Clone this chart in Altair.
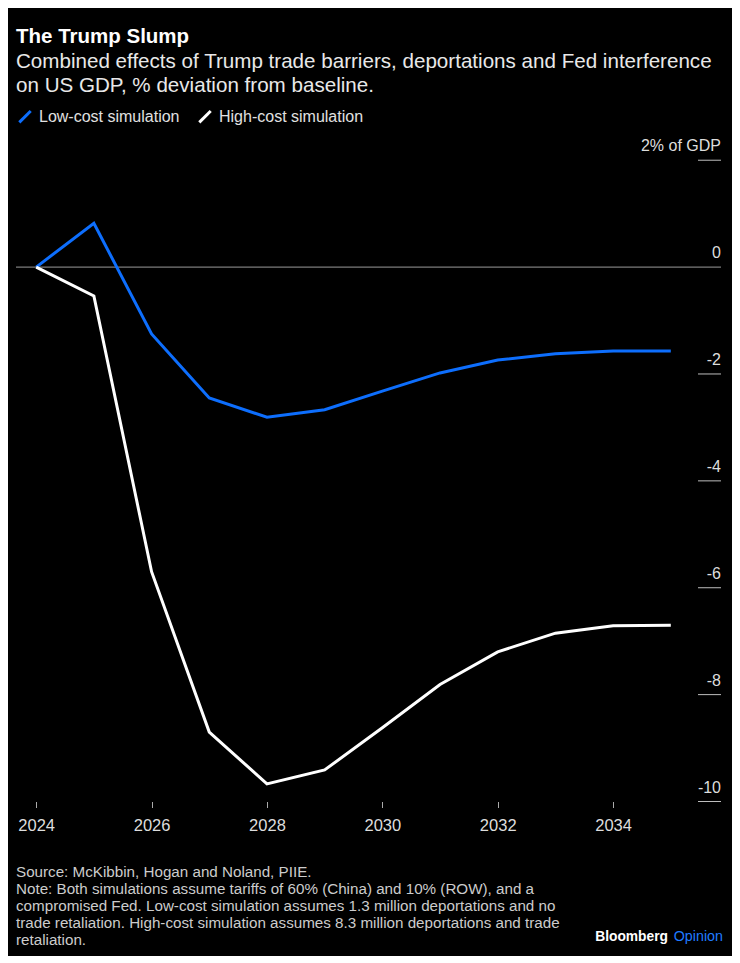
import altair as alt
import pandas as pd

FONT = "Liberation Sans"

years = list(range(2024, 2036))
low_cost = [0.0, 0.82, -1.25, -2.45, -2.81, -2.67, -2.32, -1.98, -1.74, -1.62, -1.57, -1.57]
high_cost = [0.0, -0.54, -5.70, -8.70, -9.67, -9.41, -8.62, -7.81, -7.20, -6.85, -6.71, -6.70]
series_names = ["Low-cost simulation", "High-cost simulation"]
series_colors = ["#0D6EFD", "#FFFFFF"]

y_tick_values = [2, 0, -2, -4, -6, -8, -10]
y_tick_labels = ["2% of GDP", "0", "-2", "-4", "-6", "-8", "-10"]
x_tick_values = [2024, 2026, 2028, 2030, 2032, 2034]

title_text = "The Trump Slump"
subtitle_lines = [
    "Combined effects of Trump trade barriers, deportations and Fed interference",
    "on US GDP, % deviation from baseline.",
]
footer_lines = [
    "Source: McKibbin, Hogan and Noland, PIIE.",
    "Note: Both simulations assume tariffs of 60% (China) and 10% (ROW), and a",
    "compromised Fed. Low-cost simulation assumes 1.3 million deportations and no",
    "trade retaliation. High-cost simulation assumes 8.3 million deportations and trade",
    "retaliation.",
]

W, H = 705, 668

df = pd.DataFrame({
    "year": years * 2,
    "value": low_cost + high_cost,
    "series": [series_names[0]] * len(years) + [series_names[1]] * len(years),
})
ticks_df = pd.DataFrame({"v": y_tick_values, "label": y_tick_labels})
one = pd.DataFrame({"k": [0]})

yscale = alt.Scale(domain=[-10, 2.5], nice=False, zero=False)
xscale = alt.Scale(domain=[2023.65, 2035.87], nice=False, zero=False)

zero_line = alt.Chart(one).mark_rule(color="#9a9a9a", strokeWidth=1).encode(
    y=alt.Y(datum=0, scale=yscale, axis=None),
    x=alt.value(0),
    x2=alt.value(W),
)

tick_rules = alt.Chart(ticks_df).transform_filter("datum.v != 0").mark_rule(
    color="#bdbdbd", strokeWidth=1
).encode(
    y=alt.Y("v:Q", scale=yscale, axis=None),
    x=alt.value(W - 23),
    x2=alt.value(W),
)

tick_labels = alt.Chart(ticks_df).mark_text(
    align="right", baseline="alphabetic", dy=-9, fontSize=16, font=FONT, color="#dddddd"
).encode(
    y=alt.Y("v:Q", scale=yscale, axis=None),
    x=alt.value(W),
    text="label:N",
)

lines = alt.Chart(df).mark_line(strokeWidth=3, strokeJoin="miter").encode(
    x=alt.X(
        "year:Q",
        scale=xscale,
        axis=alt.Axis(
            values=x_tick_values, format="d", title=None, domain=False, grid=False,
            ticks=True, tickSize=6, tickColor="#aaaaaa", tickWidth=1,
            labelColor="#dddddd", labelFontSize=16.5, labelFont=FONT, labelPadding=10,
        ),
    ),
    y=alt.Y("value:Q", scale=yscale, axis=None),
    color=alt.Color(
        "series:N",
        scale=alt.Scale(domain=series_names, range=series_colors),
        sort=series_names,
        legend=alt.Legend(
            orient="none", legendX=1, legendY=-25, direction="horizontal", title=None,
            symbolType="M-1,1L1,-1", symbolStrokeWidth=3, symbolSize=130,
            labelFontSize=16, labelFont=FONT, labelColor="#e0e0e0",
            columnPadding=13, labelOffset=6,
        ),
    ),
)

footer = alt.Chart(one).mark_text(
    align="left", baseline="top", lineHeight=17, fontSize=15.2, font=FONT, color="#cccccc"
).encode(
    x=alt.value(0), y=alt.value(731), text=alt.value(footer_lines)
)

brand1 = alt.Chart(one).mark_text(
    align="right", baseline="middle", fontSize=13.8, font=FONT, fontWeight="bold", color="#ffffff"
).encode(x=alt.value(652), y=alt.value(803.5), text=alt.value("Bloomberg"))

brand2 = alt.Chart(one).mark_text(
    align="right", baseline="middle", fontSize=14.3, font=FONT, color="#1F7BFF"
).encode(x=alt.value(707), y=alt.value(803.5), text=alt.value("Opinion"))

chart = alt.layer(
    zero_line, tick_rules, tick_labels, lines, footer, brand1, brand2
).properties(
    width=W,
    height=H,
    title=alt.Title(
        title_text,
        subtitle=subtitle_lines,
        anchor="start",
        frame="group",
        font=FONT,
        fontSize=20.5,
        fontWeight="bold",
        color="#ffffff",
        subtitleFont=FONT,
        subtitleFontSize=20.6,
        subtitleColor="#e8e8e8",
        subtitleLineHeight=24,
        subtitlePadding=4,
        offset=12,
    ),
    background="#000000",
    padding={"left": 8, "top": 125.5, "right": 11, "bottom": 154},
    autosize=alt.AutoSizeParams(type="none"),
).configure_view(stroke=None)

chart.save("out.html", embed_options={"renderer": "svg", "actions": False})
